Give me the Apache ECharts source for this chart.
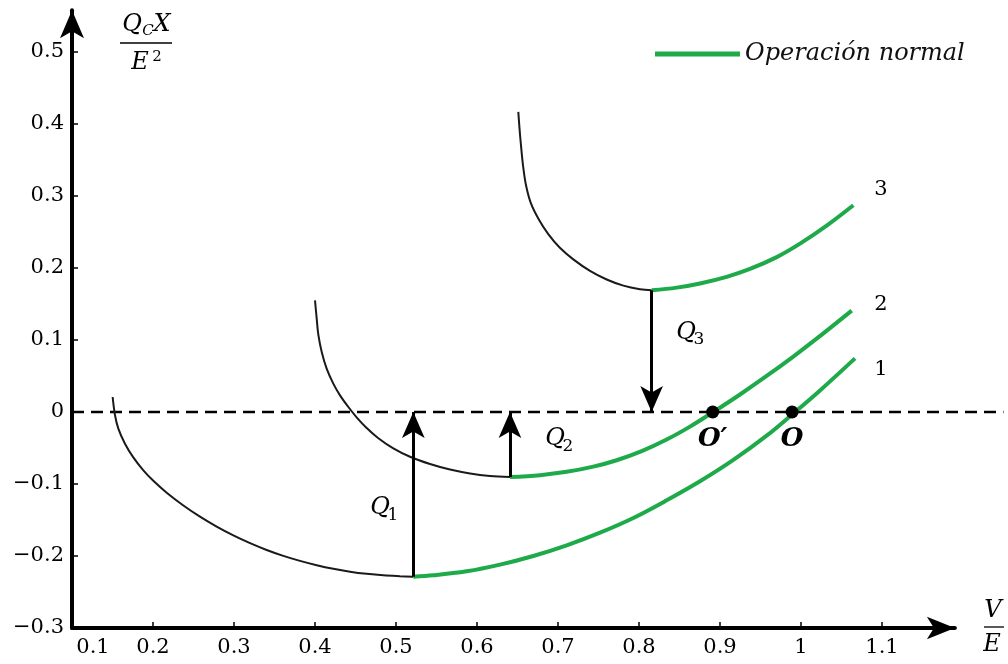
<!DOCTYPE html>
<html>
<head>
<meta charset="utf-8">
<script src="https://cdn.jsdelivr.net/npm/echarts@6/dist/echarts.min.js"></script>
<style>
html,body{margin:0;padding:0;background:#fff;}
#c{width:1008px;height:664px;}
</style>
</head>
<body>
<div id="c"></div>
<script>
// ---- data ----
const xTickLabels = [0.1, 0.2, 0.3, 0.4, 0.5, 0.6, 0.7, 0.8, 0.9, 1.0, 1.1];
const yTickLabels = [-0.3, -0.2, -0.1, 0, 0.1, 0.2, 0.3, 0.4, 0.5];

const curve1Black = [[0.1502,0.0208],[0.1531,-0.0046],[0.1572,-0.0231],[0.1654,-0.0440],[0.1757,-0.0631],[0.1881,-0.0811],[0.2004,-0.0956],[0.2169,-0.1121],[0.2375,-0.1298],[0.2580,-0.1454],[0.2786,-0.1592],[0.2992,-0.1714],[0.3198,-0.1822],[0.3403,-0.1916],[0.3609,-0.1998],[0.3815,-0.2068],[0.4021,-0.2128],[0.4226,-0.2178],[0.4432,-0.2218],[0.4638,-0.2248],[0.4844,-0.2269],[0.5049,-0.2281],[0.5214,-0.2288]];
const curve1Green = [[0.5214,-0.2288],[0.5461,-0.2269],[0.5872,-0.2213],[0.6284,-0.2120],[0.6695,-0.2000],[0.7107,-0.1852],[0.7519,-0.1676],[0.7930,-0.1472],[0.8342,-0.1227],[0.8753,-0.0963],[0.9165,-0.0666],[0.9576,-0.0329],[0.9905,-0.0020],[1.0235,0.0300],[1.0667,0.0745]];
const curve2Black = [[0.4000,0.1551],[0.4021,0.1296],[0.4041,0.1075],[0.4083,0.0833],[0.4144,0.0602],[0.4226,0.0394],[0.4309,0.0231],[0.4412,0.0069],[0.4514,-0.0074],[0.4638,-0.0223],[0.4782,-0.0364],[0.4967,-0.0505],[0.5173,-0.0622],[0.5420,-0.0723],[0.5667,-0.0800],[0.5914,-0.0854],[0.6160,-0.0888],[0.6407,-0.0903]];
const curve2Green = [[0.6407,-0.0903],[0.6778,-0.0877],[0.7107,-0.0831],[0.7436,-0.0759],[0.7724,-0.0670],[0.8033,-0.0543],[0.8342,-0.0382],[0.8630,-0.0203],[0.8918,0.0000],[0.9247,0.0243],[0.9576,0.0500],[0.9905,0.0770],[1.0193,0.1018],[1.0626,0.1408]];
const curve3Black = [[0.6510,0.4167],[0.6525,0.3935],[0.6543,0.3704],[0.6568,0.3426],[0.6605,0.3148],[0.6665,0.2900],[0.6760,0.2680],[0.6880,0.2470],[0.7020,0.2285],[0.7189,0.2120],[0.7395,0.1960],[0.7601,0.1840],[0.7807,0.1755],[0.8012,0.1705],[0.8156,0.1690]];
const curve3Green = [[0.8156,0.1690],[0.8465,0.1727],[0.8753,0.1785],[0.9082,0.1877],[0.9370,0.1986],[0.9700,0.2151],[0.9988,0.2338],[1.0317,0.2588],[1.0646,0.2871]];

const zeroLineX = [0.1, 1.25];
const operatingPoints = [[0.891, 0, "O\u2032"], [0.989, 0, "O"]];
// Q arrows: start at each curve's minimum, end on the y = 0 line
const qArrows = [[curve1Green[0], 0], [curve2Green[0], 0], [curve3Green[0], 0]];

// ---- styles ----
const GREEN = '#1faa4a';
const SERIF = '"DejaVu Serif", "Liberation Serif", serif';

const chart = echarts.init(document.getElementById('c'), null, {renderer: 'canvas'});

function fmt(v) {
  const r = Math.round(v * 10) / 10;
  if (r === 0) return '0';
  if (r < 0) return '\u2212' + String(-r);
  return String(r);
}

const blackLine = {color: '#1a1a1a', width: 2};
const greenLine = {color: GREEN, width: 4};

function curve(name, data, ls, z) {
  return {
    type: 'line', name: name, data: data, smooth: 0.35, symbol: 'none',
    lineStyle: ls, itemStyle: {color: ls.color}, z: z, silent: true, animation: false
  };
}

function txt(text, x, y, font) {
  return {type: 'text', x: x, y: y, z: 10, style: {text: text, font: font, fill: '#000', align: 'center', verticalAlign: 'middle'}};
}

const option = {
  animation: false,
  grid: {left: 72, right: 53.1, top: 10.2, bottom: 36, containLabel: false},
  legend: {
    data: ['Operación normal'],
    left: 650, top: 37,
    icon: 'rect', itemWidth: 85, itemHeight: 5, itemGap: 10,
    textStyle: {fontFamily: SERIF, fontStyle: 'italic', fontSize: 24, color: '#111'}
  },
  xAxis: {
    type: 'value', min: 0.1, max: 1.19, interval: 0.1,
    splitLine: {show: false},
    axisLine: {show: true, onZero: false, lineStyle: {color: '#000', width: 4}, symbol: ['none', 'arrow'], symbolSize: [17, 28]},
    axisTick: {show: true, inside: true, length: 6, lineStyle: {color: '#000', width: 1.5}, customValues: xTickLabels.slice(1)},
    axisLabel: {
      customValues: xTickLabels,
      fontFamily: SERIF, fontSize: 21, color: '#000', margin: 9,
      formatter: function (v) { const s = fmt(v); return Math.abs(v - 0.1) < 1e-6 ? '{f|' + s + '}' : s; },
      rich: {f: {fontFamily: SERIF, fontSize: 21, color: '#000', padding: [0, 0, 0, 42]}}
    }
  },
  yAxis: {
    type: 'value', min: -0.3, max: 0.558, interval: 0.1,
    splitLine: {show: false},
    axisLine: {show: true, onZero: false, lineStyle: {color: '#000', width: 4}, symbol: ['none', 'arrow'], symbolSize: [18, 28]},
    axisTick: {show: true, inside: true, length: 6, lineStyle: {color: '#000', width: 1.5}, customValues: yTickLabels.slice(1)},
    axisLabel: {
      customValues: yTickLabels,
      fontFamily: SERIF, fontSize: 21, color: '#000', margin: 8, padding: [8, 0, 0, 0],
      formatter: fmt
    }
  },
  series: [
    curve('c1', curve1Black, blackLine, 2),
    curve('c2', curve2Black, blackLine, 2),
    curve('c3', curve3Black, blackLine, 2),
    curve('Operación normal', curve1Green, greenLine, 3),
    curve('Operación normal', curve2Green, greenLine, 3),
    curve('Operación normal', curve3Green, greenLine, 3),
    {
      type: 'line', name: 'arrows', data: [], symbol: 'none', silent: true,
      markLine: {
        silent: true, animation: false,
        symbol: ['none', 'arrow'], symbolSize: [17, 26],
        label: {show: false},
        lineStyle: {color: '#000', width: 3, type: 'solid'},
        emphasis: {disabled: true},
        data: qArrows.map(function (a) {
          return [{coord: [a[0][0], a[0][1]]}, {coord: [a[0][0], a[1]]}];
        })
      },
      z: 4
    },
    {
      type: 'scatter', name: 'points', data: operatingPoints, symbolSize: 13,
      itemStyle: {color: '#000', opacity: 1}, silent: true, z: 5,
      label: {
        show: true, position: 'bottom', distance: 8,
        formatter: function (p) { return p.data[2]; },
        fontFamily: SERIF, fontStyle: 'italic', fontWeight: 'bold', fontSize: 26, color: '#000', opacity: 1
      }
    }
  ]
};

chart.setOption(option);

// dashed y = 0 reference line, extending past the end of the axis
const p0 = chart.convertToPixel({gridIndex: 0}, [zeroLineX[0], 0]);
const p1 = chart.convertToPixel({gridIndex: 0}, [zeroLineX[1], 0]);

chart.setOption({
  graphic: [
    {type: 'line', z: 1, shape: {x1: p0[0], y1: p0[1], x2: p1[0], y2: p1[1]}, style: {stroke: '#000', lineWidth: 2.5, lineDash: [12, 7]}},
    // y-axis title  Q_C X / E^2
    txt('Q', 132, 25, 'italic 24px ' + SERIF),
    txt('C', 148, 31, 'italic 15px ' + SERIF),
    txt('X', 162, 25, 'italic 24px ' + SERIF),
    {type: 'line', shape: {x1: 120, y1: 43, x2: 172, y2: 43}, style: {stroke: '#000', lineWidth: 1.3}},
    txt('E', 140, 63, 'italic 24px ' + SERIF),
    txt('2', 157, 57, '15px ' + SERIF),
    // x-axis title  V / E
    txt('V', 993, 611, 'italic 24px ' + SERIF),
    {type: 'line', shape: {x1: 984, y1: 627, x2: 1004, y2: 627}, style: {stroke: '#000', lineWidth: 1.3}},
    txt('E', 992, 645, 'italic 24px ' + SERIF),
    // Q labels
    txt('Q', 380, 508, 'italic 24px ' + SERIF), txt('1', 393, 516, '17px ' + SERIF),
    txt('Q', 555, 439, 'italic 24px ' + SERIF), txt('2', 568, 447, '17px ' + SERIF),
    txt('Q', 686, 333, 'italic 24px ' + SERIF), txt('3', 699, 340, '17px ' + SERIF),
    // curve numbers
    txt('3', 881, 190, '21px ' + SERIF),
    txt('2', 881, 305, '21px ' + SERIF),
    txt('1', 881, 370, '21px ' + SERIF)
  ]
});
</script>
</body>
</html>
